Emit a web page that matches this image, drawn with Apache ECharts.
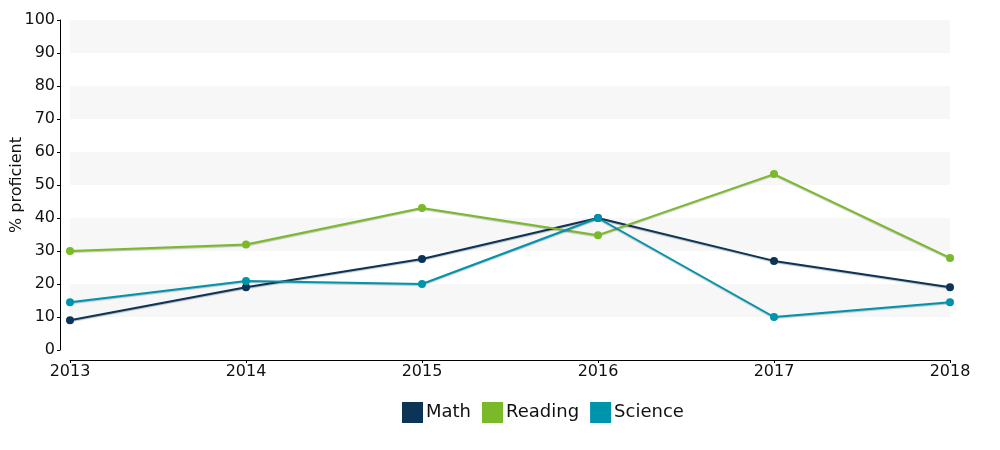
<!DOCTYPE html>
<html><head><meta charset="utf-8">
<script src="https://cdn.jsdelivr.net/npm/echarts@6/dist/echarts.min.js"></script>
<style>html,body{margin:0;padding:0;background:#fff}#c{width:1000px;height:450px}</style>
</head><body><div id="c"></div>
<script>
const years = ['2013','2014','2015','2016','2017','2018'];
const math = [9, 19, 27.6, 40, 27, 19];
const reading = [30, 32, 43, 34.8, 53.3, 27.9];
const science = [14.5, 20.9, 20, 40, 10, 14.5];
const seriesNames = ['Math','Reading','Science'];
const colors = ['#0b3457','#7aba28','#0094ac'];

const chart = echarts.init(document.getElementById('c'));
const font = 'DejaVu Sans, Verdana, sans-serif';
function mk(name, data, color) {
  return {
    name, type: 'line', data, symbol: 'circle', symbolSize: 8,
    itemStyle: { color },
    lineStyle: { width: 2, color, shadowColor: 'rgba(0,0,0,0.25)', shadowBlur: 1, shadowOffsetY: 1 },
    emphasis: { disabled: true }
  };
}
chart.setOption({
  animation: false,
  textStyle: { fontFamily: font },
  grid: { left: 70, right: 50, top: 20, bottom: 100, containLabel: false, outerBoundsMode: 'none' },
  legend: {
    top: 397, left: 397, icon: 'rect', itemWidth: 21, itemHeight: 21, itemGap: 11,
    textStyle: { fontSize: 18, color: '#111', fontFamily: font, padding: [0,0,0,-2] },
    data: seriesNames
  },
  xAxis: {
    type: 'category', data: years, boundaryGap: false, offset: 10,
    axisLine: { onZero: false, lineStyle: { color: '#000', width: 1 } },
    axisTick: { show: true, length: 3, lineStyle: { color: '#000' } },
    axisLabel: { fontSize: 16, color: '#111', fontFamily: font, margin: 4 },
    splitLine: { show: false }
  },
  yAxis: {
    type: 'value', min: 0, max: 100, interval: 10, offset: 10,
    name: '% proficient', nameLocation: 'middle', nameGap: 35, nameRotate: 90, nameMoveOverlap: false,
    nameTextStyle: { fontSize: 16, color: '#111', fontFamily: font },
    axisLine: { show: true, onZero: false, lineStyle: { color: '#000', width: 1 } },
    axisTick: { show: true, length: 3, lineStyle: { color: '#000' } },
    axisLabel: { fontSize: 16, color: '#111', fontFamily: font, margin: 5 },
    splitLine: { show: false },
    splitArea: { show: true, areaStyle: { color: ['rgba(255,255,255,0)', '#f7f7f7'] } }
  },
  series: [mk('Math', math, colors[0]), mk('Reading', reading, colors[1]), mk('Science', science, colors[2])]
});
</script></body></html>
